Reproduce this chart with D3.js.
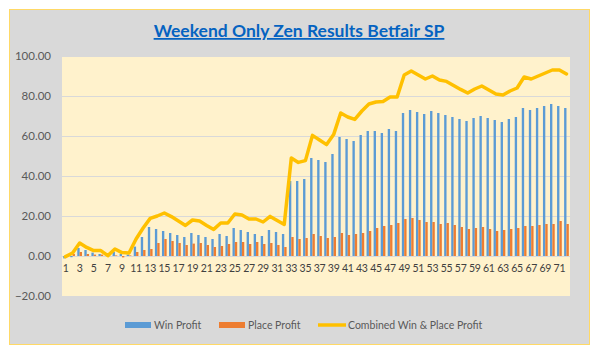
<!DOCTYPE html>
<html>
<head>
<meta charset="utf-8">
<script src="https://cdn.jsdelivr.net/npm/d3@7"></script>
<style>
  html, body { margin: 0; padding: 0; background: #fff; }
  svg text { font-family: Lato, "Open Sans", sans-serif; }
</style>
</head>
<body>
<div id="chart"></div>
<script>
// weeks 1..72
const weeks = d3.range(1, 73);

const winProfit = [
  -1.2, -0.6, 4, 3, 1.7, 1, 0.2, 2, 1, 0.7,
  4.7, 9.5, 14.5, 13.5, 12.5, 11.5, 10.5, 9.5, 11.5, 10.5,
  9.5, 8.5, 11, 10, 14, 13, 12, 11, 10, 13,
  12, 11, 37.5, 37.5, 38.5, 49, 48, 47, 51, 59.5,
  58.5, 57.5, 60.5, 62.5, 62.5, 61.5, 63.5, 62.5, 71.5, 73,
  72, 71, 72.5, 71.5, 70.5, 69.5, 68.5, 67.5, 69, 70,
  69, 68, 67, 68.5, 69.5, 74, 73, 74, 75, 76, 75, 74
];

const placeProfit = [
  0.5, 1, 2, 1, 0.7, 0.7, 0.2, 0.3, -0.7, 0.3,
  2, 3, 3.5, 6.5, 8.5, 7.5, 6.5, 5.5, 6.2, 6.5,
  5.5, 4.5, 5, 6, 7, 7, 6, 7, 6, 6.5,
  5.5, 4.5, 9.5, 8.5, 9, 11, 10, 9, 9.5, 11.5,
  10.5, 11, 11.5, 12.5, 14, 15, 15.5, 16.5, 18.5, 19,
  18, 17, 17, 16, 16.5, 15.5, 14.5, 13.5, 14, 14.5,
  13.5, 12.5, 13, 13.5, 14, 15, 15, 15.5, 16, 16, 17.5, 16
];

const combinedProfit = [
  -0.3, 1.5, 6.5, 4.3, 2.7, 2.7, 0.2, 3.5, 1.7, 1.5,
  8.5, 14, 18.8, 20, 21.5, 19.7, 17.5, 15.3, 18, 17.5,
  15.3, 13.3, 16.5, 16.5, 21, 20.5, 18.5, 18.5, 17, 19.8,
  17.8, 15.8, 49, 46.8, 47.7, 60.3, 58, 55.7, 60.7, 71.5,
  69.5, 68.3, 72.5, 76, 77, 77.3, 79.5, 79.5, 90.5, 92.5,
  90.5, 88.5, 90, 88, 87.3, 85.3, 83.3, 81.5, 83.5, 85,
  83, 81, 80.5, 82.5, 84, 89.5, 88.5, 90, 91.5, 93, 93, 91
];

const yTicks = [-20, 0, 20, 40, 60, 80, 100];
const seriesNames = ["Win Profit", "Place Profit", "Combined Win & Place Profit"];
const colors = ["#5B9BD5", "#ED7D31", "#FFC000"];

const W = 596, H = 352;
const plot = { left: 62, right: 570, top: 56, bottom: 296 };

const svg = d3.select("#chart").append("svg")
  .attr("width", W)
  .attr("height", H);

// chart panel
svg.append("rect")
  .attr("x", 9.5).attr("y", 9.5)
  .attr("width", 580).attr("height", 335)
  .attr("fill", "#D9D9D9")
  .attr("stroke", "#FFD966")
  .attr("stroke-width", 1);

svg.append("rect")
  .attr("x", plot.left).attr("y", plot.top)
  .attr("width", plot.right - plot.left)
  .attr("height", plot.bottom - plot.top)
  .attr("fill", "#FFF2CC");

svg.append("text")
  .attr("x", 299).attr("y", 37)
  .attr("text-anchor", "middle")
  .attr("font-size", 17.5)
  .attr("font-weight", "bold")
  .attr("fill", "#0563C1")
  .attr("text-decoration", "underline")
  .text("Weekend Only Zen Results Betfair SP");

const x = d3.scaleBand()
  .domain(weeks)
  .range([plot.left, plot.right])
  .padding(0);

const xSub = d3.scaleBand()
  .domain(["win", "place"])
  .range([0, x.bandwidth()])
  .paddingInner(0)
  .paddingOuter(0.5);

const y = d3.scaleLinear()
  .domain([-20, 100])
  .range([plot.bottom, plot.top]);

// gridlines
svg.append("g")
  .selectAll("line")
  .data(yTicks.filter(d => d > -20))
  .join("line")
  .attr("x1", plot.left).attr("x2", plot.right)
  .attr("y1", d => Math.round(y(d)) + 0.5)
  .attr("y2", d => Math.round(y(d)) + 0.5)
  .attr("stroke", "#D9D9D9")
  .attr("stroke-width", 1);

// y axis labels
const yAxis = svg.append("g")
  .attr("transform", `translate(${plot.left},0)`)
  .call(d3.axisLeft(y).tickValues(yTicks).tickFormat(d3.format(".2f")).tickSize(0).tickPadding(11));
yAxis.select(".domain").remove();
yAxis.selectAll("text")
  .attr("font-size", 11.5)
  .attr("fill", "#595959")
  .style("font-family", "Lato, 'Open Sans', sans-serif");

// bars
const bars = svg.append("g");
bars.selectAll("rect.win")
  .data(winProfit)
  .join("rect")
  .attr("class", "win")
  .attr("x", (d, i) => x(weeks[i]) + xSub("win"))
  .attr("width", xSub.bandwidth())
  .attr("y", d => y(Math.max(0, d)))
  .attr("height", d => Math.abs(y(d) - y(0)))
  .attr("fill", colors[0]);

bars.selectAll("rect.place")
  .data(placeProfit)
  .join("rect")
  .attr("class", "place")
  .attr("x", (d, i) => x(weeks[i]) + xSub("place"))
  .attr("width", xSub.bandwidth())
  .attr("y", d => y(Math.max(0, d)))
  .attr("height", d => Math.abs(y(d) - y(0)))
  .attr("fill", colors[1]);

// x axis at zero
const xAxis = svg.append("g")
  .attr("transform", `translate(0,${y(0)})`)
  .call(d3.axisBottom(x).tickSize(0).tickPadding(9)
    .tickFormat(d => d % 2 === 1 ? d : ""));
xAxis.select(".domain").remove();
xAxis.selectAll("text")
  .attr("font-size", 10.5)
  .attr("letter-spacing", -0.3)
  .attr("fill", "#404040")
  .style("font-family", "Lato, 'Open Sans', sans-serif");

// combined line
const line = d3.line()
  .x((d, i) => x(weeks[i]) + x.bandwidth() / 2)
  .y(d => y(d));

svg.append("path")
  .datum(combinedProfit)
  .attr("d", line)
  .attr("fill", "none")
  .attr("stroke", colors[2])
  .attr("stroke-width", 3.5)
  .attr("stroke-linejoin", "round")
  .attr("stroke-linecap", "round");

// legend
const legendX = [125, 219, 318];
const legend = svg.append("g");
seriesNames.forEach((name, i) => {
  const g = legend.append("g").attr("transform", `translate(${legendX[i]},325)`);
  if (i < 2) {
    g.append("rect").attr("x", 0).attr("y", -3).attr("width", 26).attr("height", 6).attr("fill", colors[i]);
  } else {
    g.append("line").attr("x1", 0).attr("x2", 28).attr("y1", 0).attr("y2", 0)
      .attr("stroke", colors[i]).attr("stroke-width", 3.5);
  }
  g.append("text")
    .attr("x", i < 2 ? 29 : 30)
    .attr("y", 4)
    .attr("font-size", 10.5)
    .attr("fill", "#595959")
    .text(name);
});
</script>
</body>
</html>
